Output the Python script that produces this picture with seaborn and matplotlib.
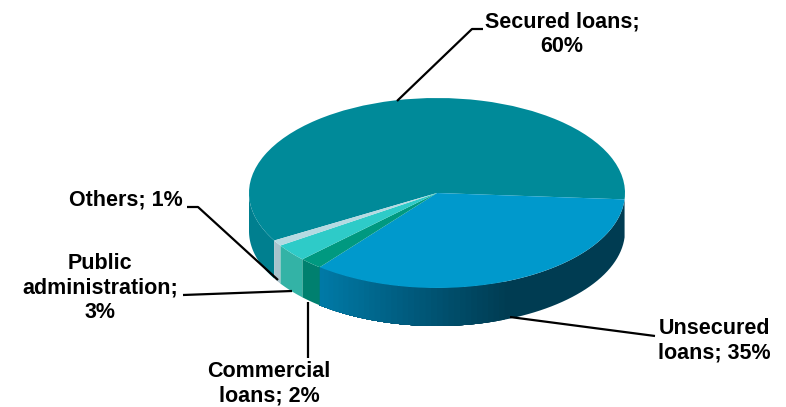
import numpy as np
import matplotlib
matplotlib.use("Agg")
import matplotlib.pyplot as plt
from matplotlib.colors import LinearSegmentedColormap
import seaborn as sns

categories = ["Secured loans", "Unsecured loans", "Commercial loans",
              "Public administration", "Others"]
shares = [60, 35, 2, 3, 1]
top_colors = ["#008a99", "#0099cc", "#009980", "#2ecbc8", "#b5dae2"]
side_colors = ["#007f8f", "#007ba8", "#00806f", "#33b3a6", "#a8c2cc"]

sns.set_theme(style="white")
plt.rcParams["font.family"] = ["Liberation Sans", "DejaVu Sans"]

W, H = 786, 407
CX, CY, RX, RY, DEPTH = 437, 193, 188, 95, 38
START = 210

fig = plt.figure(figsize=(W / 100, H / 100), dpi=100)
ax = fig.add_axes([0, 0, 1, 1])

wedges, _ = ax.pie(shares, colors=top_colors, startangle=START, counterclock=False,
                   radius=1, center=(0, 0), wedgeprops={"linewidth": 0, "zorder": 5})
ax.set_aspect("auto")
ax.set_xlim(-CX / RX, (W - CX) / RX)
ax.set_ylim((CY - H) / RY, CY / RY)


def px(x, y):
    """Figure pixel position (origin top left) to unit-circle coordinates."""
    return (x - CX) / RX, (CY - y) / RY


drop = DEPTH / RY
edges = START - np.cumsum([0] + shares) / sum(shares) * 360
wall_ramp = LinearSegmentedColormap.from_list("wall", [side_colors[1], "#005a7c", "#003c52"])


def wall(a0, a1, color, z=2):
    t = np.radians(np.linspace(a0, a1, 60))
    xs, ys = np.cos(t), np.sin(t)
    ax.fill(np.r_[xs, xs[::-1]], np.r_[ys, ys[::-1] - drop], color=color, lw=0, zorder=z)


# Outer walls: the front half of each slice, extruded downward
wall(180, START, side_colors[0])

# The unsecured wall darkens toward the right; bands are painted dark to light
# so that each one overlaps its neighbour and no seam shows
wall(edges[1], edges[2], "#003c52", z=3)
x_light, x_dark = np.cos(np.radians(edges[2])), px(510, 0)[0]
for angle in np.linspace(np.degrees(np.arccos(x_dark)) * -1, edges[2], 36)[1:-1]:
    frac = (np.cos(np.radians(angle)) - x_light) / (x_dark - x_light)
    wall(angle, edges[2], wall_ramp(frac), z=3)

for k in (2, 3, 4):
    wall(edges[k], edges[k + 1], side_colors[k], z=3)

# Leader lines
leaders = [
    [(397, 101), (472, 29), (483, 29)],
    [(510, 317), (655, 336)],
    [(278, 280), (198, 207), (187, 207)],
    [(292, 291), (183, 295)],
    [(308, 302), (308, 358)],
]
for path in leaders:
    pts = np.array([px(*p) for p in path])
    ax.plot(pts[:, 0], pts[:, 1], color="black", lw=1.6, zorder=6, solid_capstyle="butt")

labels = [
    ("Secured loans;\n60%", 562, 34),
    ("Unsecured\nloans; 35%", 714, 341),
    ("Commercial\nloans; 2%", 269, 384),
    ("Public\nadministration;\n3%", 100, 288),
    ("Others; 1%", 126, 200),
]
for text, x, y in labels:
    lx, ly = px(x, y)
    ax.text(lx, ly, text, ha="center", va="center", fontsize=15.5, fontweight="bold",
            color="black", linespacing=1.22, zorder=7)

fig.savefig("out.png", dpi=100)
